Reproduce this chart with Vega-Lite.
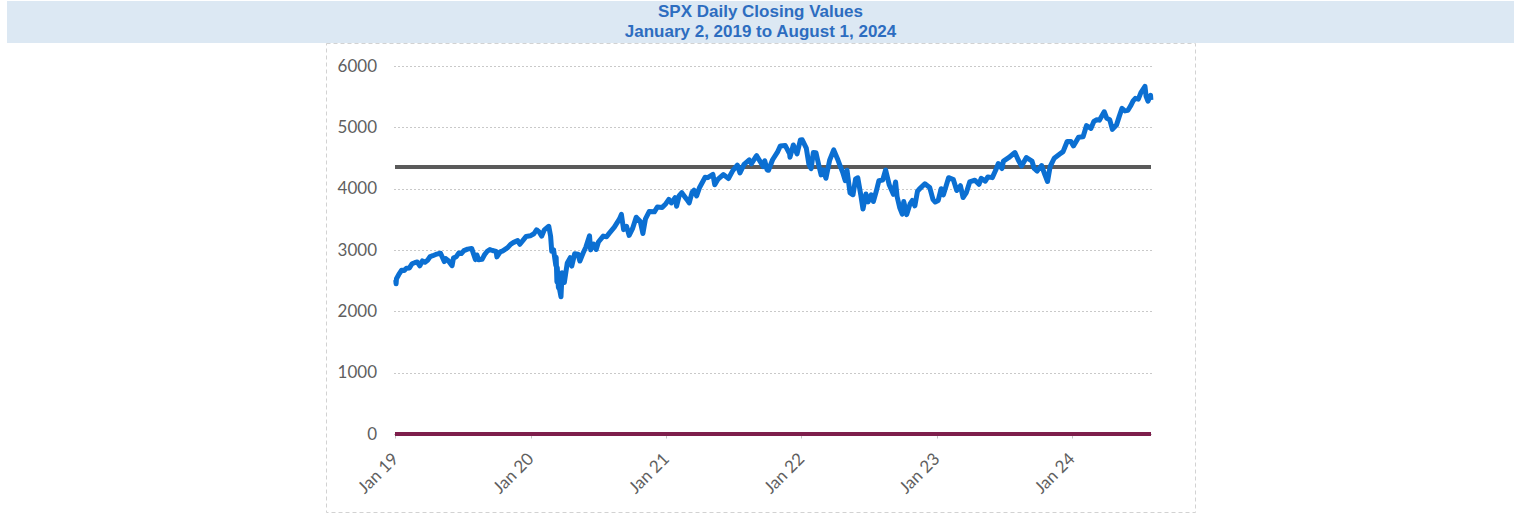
{
  "$schema": "https://vega.github.io/schema/vega-lite/v6.json",
  "padding": {"left": 7, "top": 1, "right": 5, "bottom": 3},
  "background": "white",
  "spacing": 0,
  "center": true,
  "bounds": "flush",
  "config": {
    "axis": {"title": null, "labelFont": "Lato", "labelFontSize": 17, "labelColor": "#5f5f5f"}
  },
  "vconcat": [
    {
      "width": 1507,
      "height": 42,
      "view": {"fill": "#DCE8F3", "stroke": null},
      "data": {"values": [{}]},
      "mark": {
        "type": "text",
        "text": ["SPX Daily Closing Values", "January 2, 2019 to August 1, 2024"],
        "font": "Liberation Sans",
        "fontWeight": "bold",
        "fontSize": 17,
        "lineHeight": 19.4,
        "color": "#2D6DC0",
        "align": "center",
        "baseline": "middle",
        "dy": -9.7
      }
    },
    {
      "width": 869,
      "height": 469,
      "view": {"stroke": "#d2d2d2", "strokeDash": [4, 3], "strokeWidth": 1},
      "data": {"values": [
        {"date": "2019-01-02", "close": 2510}, {"date": "2019-01-03", "close": 2448}, {"date": "2019-01-04", "close": 2532},
        {"date": "2019-01-10", "close": 2597}, {"date": "2019-01-18", "close": 2671}, {"date": "2019-01-25", "close": 2665},
        {"date": "2019-01-31", "close": 2704}, {"date": "2019-02-08", "close": 2708}, {"date": "2019-02-15", "close": 2776},
        {"date": "2019-02-22", "close": 2793}, {"date": "2019-03-01", "close": 2804}, {"date": "2019-03-08", "close": 2743},
        {"date": "2019-03-15", "close": 2822}, {"date": "2019-03-22", "close": 2801}, {"date": "2019-03-29", "close": 2834},
        {"date": "2019-04-05", "close": 2893}, {"date": "2019-04-12", "close": 2907}, {"date": "2019-04-23", "close": 2934},
        {"date": "2019-04-30", "close": 2946}, {"date": "2019-05-03", "close": 2946}, {"date": "2019-05-13", "close": 2812},
        {"date": "2019-05-17", "close": 2860}, {"date": "2019-05-24", "close": 2826}, {"date": "2019-06-03", "close": 2744},
        {"date": "2019-06-07", "close": 2873}, {"date": "2019-06-14", "close": 2887}, {"date": "2019-06-21", "close": 2950},
        {"date": "2019-06-28", "close": 2942}, {"date": "2019-07-05", "close": 2990}, {"date": "2019-07-15", "close": 3014},
        {"date": "2019-07-26", "close": 3026}, {"date": "2019-08-05", "close": 2844}, {"date": "2019-08-09", "close": 2919},
        {"date": "2019-08-14", "close": 2840}, {"date": "2019-08-23", "close": 2847}, {"date": "2019-08-30", "close": 2926},
        {"date": "2019-09-06", "close": 2979}, {"date": "2019-09-13", "close": 3007}, {"date": "2019-09-20", "close": 2992},
        {"date": "2019-09-30", "close": 2977}, {"date": "2019-10-02", "close": 2888}, {"date": "2019-10-11", "close": 2970},
        {"date": "2019-10-18", "close": 2986}, {"date": "2019-10-31", "close": 3038}, {"date": "2019-11-08", "close": 3093},
        {"date": "2019-11-15", "close": 3120}, {"date": "2019-11-27", "close": 3153}, {"date": "2019-12-03", "close": 3093},
        {"date": "2019-12-13", "close": 3169}, {"date": "2019-12-20", "close": 3221}, {"date": "2019-12-31", "close": 3231},
        {"date": "2020-01-10", "close": 3265}, {"date": "2020-01-17", "close": 3330}, {"date": "2020-01-24", "close": 3295},
        {"date": "2020-01-31", "close": 3226}, {"date": "2020-02-07", "close": 3328}, {"date": "2020-02-19", "close": 3386},
        {"date": "2020-02-24", "close": 3226}, {"date": "2020-02-27", "close": 2979}, {"date": "2020-03-03", "close": 3003},
        {"date": "2020-03-09", "close": 2747}, {"date": "2020-03-10", "close": 2882}, {"date": "2020-03-12", "close": 2481},
        {"date": "2020-03-13", "close": 2711}, {"date": "2020-03-16", "close": 2386}, {"date": "2020-03-18", "close": 2398},
        {"date": "2020-03-23", "close": 2237}, {"date": "2020-03-26", "close": 2630}, {"date": "2020-04-01", "close": 2470},
        {"date": "2020-04-09", "close": 2790}, {"date": "2020-04-17", "close": 2875}, {"date": "2020-04-21", "close": 2737},
        {"date": "2020-04-29", "close": 2940}, {"date": "2020-05-08", "close": 2930}, {"date": "2020-05-13", "close": 2820},
        {"date": "2020-05-22", "close": 2955}, {"date": "2020-05-29", "close": 3044}, {"date": "2020-06-08", "close": 3232},
        {"date": "2020-06-11", "close": 3002}, {"date": "2020-06-19", "close": 3098}, {"date": "2020-06-26", "close": 3009},
        {"date": "2020-07-02", "close": 3130}, {"date": "2020-07-15", "close": 3227}, {"date": "2020-07-24", "close": 3216},
        {"date": "2020-07-31", "close": 3271}, {"date": "2020-08-14", "close": 3373}, {"date": "2020-08-28", "close": 3508},
        {"date": "2020-09-02", "close": 3580}, {"date": "2020-09-08", "close": 3332}, {"date": "2020-09-16", "close": 3385},
        {"date": "2020-09-23", "close": 3237}, {"date": "2020-10-02", "close": 3348}, {"date": "2020-10-12", "close": 3534},
        {"date": "2020-10-23", "close": 3465}, {"date": "2020-10-30", "close": 3270}, {"date": "2020-11-06", "close": 3509},
        {"date": "2020-11-16", "close": 3627}, {"date": "2020-11-30", "close": 3622}, {"date": "2020-12-08", "close": 3702},
        {"date": "2020-12-21", "close": 3694}, {"date": "2020-12-31", "close": 3756},
        {"date": "2021-01-08", "close": 3825}, {"date": "2021-01-15", "close": 3768}, {"date": "2021-01-25", "close": 3855},
        {"date": "2021-01-29", "close": 3714}, {"date": "2021-02-05", "close": 3887}, {"date": "2021-02-12", "close": 3934},
        {"date": "2021-02-25", "close": 3829}, {"date": "2021-03-04", "close": 3768}, {"date": "2021-03-12", "close": 3943},
        {"date": "2021-03-17", "close": 3974}, {"date": "2021-03-24", "close": 3881}, {"date": "2021-04-01", "close": 4020},
        {"date": "2021-04-16", "close": 4185}, {"date": "2021-04-23", "close": 4180}, {"date": "2021-05-07", "close": 4232},
        {"date": "2021-05-12", "close": 4063}, {"date": "2021-05-21", "close": 4156}, {"date": "2021-06-04", "close": 4230},
        {"date": "2021-06-18", "close": 4166}, {"date": "2021-06-30", "close": 4298}, {"date": "2021-07-12", "close": 4385},
        {"date": "2021-07-19", "close": 4258}, {"date": "2021-07-30", "close": 4395}, {"date": "2021-08-13", "close": 4468},
        {"date": "2021-08-19", "close": 4406}, {"date": "2021-08-31", "close": 4523}, {"date": "2021-09-02", "close": 4537},
        {"date": "2021-09-20", "close": 4358}, {"date": "2021-09-24", "close": 4455}, {"date": "2021-09-30", "close": 4308},
        {"date": "2021-10-04", "close": 4300}, {"date": "2021-10-15", "close": 4471}, {"date": "2021-10-29", "close": 4605},
        {"date": "2021-11-05", "close": 4697}, {"date": "2021-11-18", "close": 4705}, {"date": "2021-11-30", "close": 4567},
        {"date": "2021-12-01", "close": 4513}, {"date": "2021-12-10", "close": 4712}, {"date": "2021-12-20", "close": 4568},
        {"date": "2021-12-29", "close": 4793},
        {"date": "2022-01-03", "close": 4797}, {"date": "2022-01-14", "close": 4662}, {"date": "2022-01-21", "close": 4398},
        {"date": "2022-01-27", "close": 4326}, {"date": "2022-02-02", "close": 4589}, {"date": "2022-02-09", "close": 4587},
        {"date": "2022-02-18", "close": 4349}, {"date": "2022-02-23", "close": 4225}, {"date": "2022-03-01", "close": 4306},
        {"date": "2022-03-08", "close": 4170}, {"date": "2022-03-18", "close": 4463}, {"date": "2022-03-29", "close": 4632},
        {"date": "2022-04-08", "close": 4488}, {"date": "2022-04-14", "close": 4392}, {"date": "2022-04-22", "close": 4272},
        {"date": "2022-04-29", "close": 4132}, {"date": "2022-05-04", "close": 4300}, {"date": "2022-05-12", "close": 3930},
        {"date": "2022-05-20", "close": 3901}, {"date": "2022-05-27", "close": 4158}, {"date": "2022-06-02", "close": 4177},
        {"date": "2022-06-10", "close": 3901}, {"date": "2022-06-16", "close": 3667}, {"date": "2022-06-24", "close": 3912},
        {"date": "2022-06-30", "close": 3785}, {"date": "2022-07-08", "close": 3899}, {"date": "2022-07-14", "close": 3790},
        {"date": "2022-07-22", "close": 3962}, {"date": "2022-07-29", "close": 4130}, {"date": "2022-08-08", "close": 4140},
        {"date": "2022-08-16", "close": 4305}, {"date": "2022-08-26", "close": 4058}, {"date": "2022-09-06", "close": 3908},
        {"date": "2022-09-12", "close": 4110}, {"date": "2022-09-16", "close": 3873}, {"date": "2022-09-23", "close": 3693},
        {"date": "2022-09-30", "close": 3586}, {"date": "2022-10-04", "close": 3791}, {"date": "2022-10-12", "close": 3577},
        {"date": "2022-10-21", "close": 3752}, {"date": "2022-10-27", "close": 3807}, {"date": "2022-11-03", "close": 3720},
        {"date": "2022-11-10", "close": 3956}, {"date": "2022-11-15", "close": 3992}, {"date": "2022-11-30", "close": 4080},
        {"date": "2022-12-13", "close": 4020}, {"date": "2022-12-22", "close": 3822}, {"date": "2022-12-28", "close": 3783},
        {"date": "2023-01-05", "close": 3808}, {"date": "2023-01-13", "close": 3999}, {"date": "2023-01-19", "close": 3899},
        {"date": "2023-02-02", "close": 4179}, {"date": "2023-02-15", "close": 4147}, {"date": "2023-02-24", "close": 3970},
        {"date": "2023-03-06", "close": 4048}, {"date": "2023-03-13", "close": 3855}, {"date": "2023-03-22", "close": 3937},
        {"date": "2023-03-31", "close": 4109}, {"date": "2023-04-14", "close": 4138}, {"date": "2023-04-25", "close": 4071},
        {"date": "2023-05-01", "close": 4168}, {"date": "2023-05-12", "close": 4124}, {"date": "2023-05-19", "close": 4192},
        {"date": "2023-05-31", "close": 4180}, {"date": "2023-06-09", "close": 4299}, {"date": "2023-06-16", "close": 4410},
        {"date": "2023-06-26", "close": 4328}, {"date": "2023-06-30", "close": 4450}, {"date": "2023-07-14", "close": 4505},
        {"date": "2023-07-31", "close": 4589}, {"date": "2023-08-09", "close": 4468}, {"date": "2023-08-18", "close": 4370},
        {"date": "2023-08-31", "close": 4508}, {"date": "2023-09-15", "close": 4450}, {"date": "2023-09-21", "close": 4330},
        {"date": "2023-09-29", "close": 4288}, {"date": "2023-10-11", "close": 4377}, {"date": "2023-10-20", "close": 4224},
        {"date": "2023-10-27", "close": 4117}, {"date": "2023-11-03", "close": 4358}, {"date": "2023-11-14", "close": 4496},
        {"date": "2023-11-30", "close": 4568}, {"date": "2023-12-08", "close": 4604}, {"date": "2023-12-19", "close": 4768},
        {"date": "2023-12-29", "close": 4770},
        {"date": "2024-01-05", "close": 4697}, {"date": "2024-01-19", "close": 4840}, {"date": "2024-01-31", "close": 4846},
        {"date": "2024-02-09", "close": 5027}, {"date": "2024-02-21", "close": 4982}, {"date": "2024-02-29", "close": 5096},
        {"date": "2024-03-08", "close": 5124}, {"date": "2024-03-15", "close": 5117}, {"date": "2024-03-28", "close": 5254},
        {"date": "2024-04-04", "close": 5147}, {"date": "2024-04-12", "close": 5123}, {"date": "2024-04-19", "close": 4967},
        {"date": "2024-04-30", "close": 5036}, {"date": "2024-05-08", "close": 5187}, {"date": "2024-05-15", "close": 5308},
        {"date": "2024-05-23", "close": 5268}, {"date": "2024-05-31", "close": 5278}, {"date": "2024-06-07", "close": 5347},
        {"date": "2024-06-14", "close": 5432}, {"date": "2024-06-20", "close": 5473}, {"date": "2024-06-28", "close": 5460},
        {"date": "2024-07-05", "close": 5567}, {"date": "2024-07-16", "close": 5667}, {"date": "2024-07-19", "close": 5505},
        {"date": "2024-07-24", "close": 5427}, {"date": "2024-07-31", "close": 5522}, {"date": "2024-08-01", "close": 5446}
      ]},
      "layer": [
        {
          "mark": {"type": "rule", "color": "#5a5a5a", "strokeWidth": 4},
          "encoding": {
            "x": {"datum": {"year": 2019, "month": 1, "date": 2}, "type": "temporal"},
            "x2": {"datum": {"year": 2024, "month": 8, "date": 1}},
            "y": {"datum": 4355, "type": "quantitative"}
          }
        },
        {
          "mark": {"type": "rule", "color": "#7E1F4C", "strokeWidth": 3},
          "encoding": {
            "x": {"datum": {"year": 2019, "month": 1, "date": 2}, "type": "temporal"},
            "x2": {"datum": {"year": 2024, "month": 8, "date": 1}},
            "y": {"datum": 0, "type": "quantitative"}
          }
        },
        {
          "mark": {"type": "line", "color": "#0B6FD2", "strokeWidth": 5, "strokeJoin": "round"},
          "encoding": {
            "x": {
              "field": "date", "type": "temporal",
              "scale": {
                "domain": [{"year": 2018, "month": 12, "date": 27}, {"year": 2024, "month": 8, "date": 8}],
                "range": [67.5, 827.5]
              },
              "axis": {
                "title": null,
                "values": [
                  {"year": 2019, "month": 1, "date": 1}, {"year": 2020, "month": 1, "date": 1},
                  {"year": 2021, "month": 1, "date": 1}, {"year": 2022, "month": 1, "date": 1},
                  {"year": 2023, "month": 1, "date": 1}, {"year": 2024, "month": 1, "date": 1}
                ],
                "format": "%b %y",
                "labelAngle": -45,
                "labelAlign": "right",
                "labelBaseline": "middle",
                "labelPadding": 18,
                "domain": false,
                "grid": false,
                "ticks": true,
                "tickColor": "#c4c4c4",
                "tickSize": 4,
                "offset": -78
              }
            },
            "y": {
              "field": "close", "type": "quantitative",
              "scale": {"domain": [0, 6000], "range": [391, 23], "nice": false, "zero": true},
              "axis": {
                "title": null,
                "values": [0, 1000, 2000, 3000, 4000, 5000, 6000],
                "format": "d",
                "labelPadding": 17,
                "domain": false,
                "ticks": false,
                "grid": true,
                "gridColor": "#c9c9c9",
                "gridDash": [2, 2],
                "gridWidth": 1,
                "offset": -67.5
              }
            }
          }
        }
      ]
    }
  ]
}
